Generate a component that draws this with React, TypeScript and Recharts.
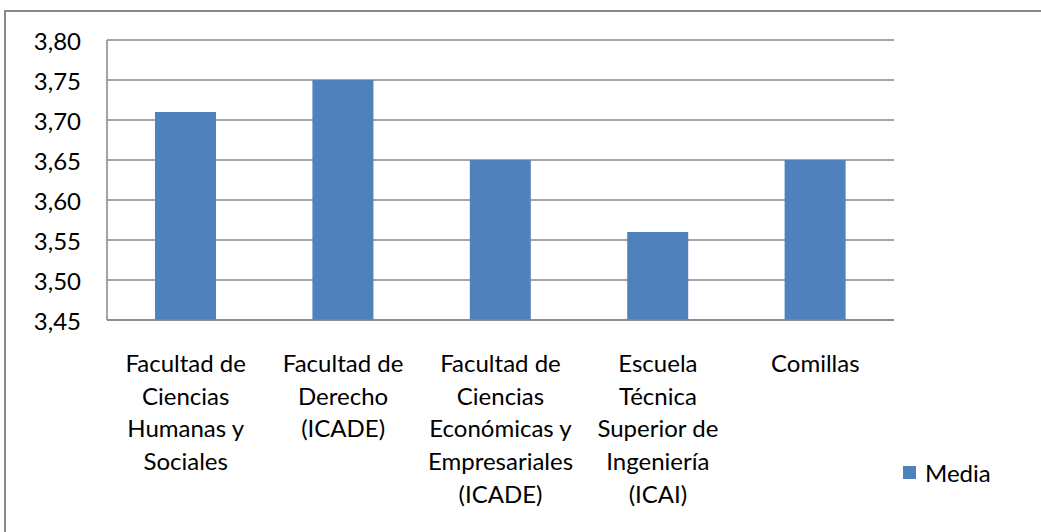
import React from "react";
import { BarChart, Bar, XAxis, YAxis, CartesianGrid, Legend } from "recharts";

const categories = [
  "Facultad de Ciencias Humanas y Sociales",
  "Facultad de Derecho (ICADE)",
  "Facultad de Ciencias Económicas y Empresariales (ICADE)",
  "Escuela Técnica Superior de Ingeniería (ICAI)",
  "Comillas",
];
const categoryLines = [
  ["Facultad de", "Ciencias", "Humanas y", "Sociales"],
  ["Facultad de", "Derecho", "(ICADE)"],
  ["Facultad de", "Ciencias", "Económicas y", "Empresariales", "(ICADE)"],
  ["Escuela", "Técnica", "Superior de", "Ingeniería", "(ICAI)"],
  ["Comillas"],
];
const mediaValues = [3.71, 3.75, 3.65, 3.56, 3.65];
const yTicks = [3.45, 3.5, 3.55, 3.6, 3.65, 3.7, 3.75, 3.8];
const seriesName = "Media";

const data = categories.map((c, i) => ({ category: c, media: mediaValues[i] }));

const FONT = "Lato, 'Noto Sans', sans-serif";
const FS = 24;
const BAR = "#4F81BD";
const GRID = "#868686";

const YTick = (props: any) => {
  const { x, y, payload } = props;
  return (
    <text x={x - 26} y={y} textAnchor="end" dominantBaseline="central" fontFamily={FONT} fontSize={FS} fill="#000">
      {Number(payload.value).toFixed(2).replace(".", ",")}
    </text>
  );
};

const XTick = (props: any) => {
  const { x, y, payload } = props;
  const idx = categories.indexOf(payload.value);
  const lines = categoryLines[idx] || [payload.value];
  return (
    <text x={x} y={y} textAnchor="middle" fontFamily={FONT} fontSize={FS} fill="#000">
      {lines.map((l, i) => (
        <tspan key={i} x={x} y={y + 52 + i * 32.7}>
          {l}
        </tspan>
      ))}
    </text>
  );
};

const LegendContent = () => (
  <div style={{ height: 0, overflow: "visible", position: "relative" }}>
    <div
      style={{
        position: "absolute",
        left: 0,
        top: 0,
        display: "flex",
        alignItems: "center",
        fontFamily: FONT,
        fontSize: FS,
        color: "#000",
        whiteSpace: "nowrap",
      }}
    >
      <span style={{ display: "inline-block", width: 13, height: 13, background: BAR, marginRight: 9 }} />
      <span>{seriesName}</span>
    </div>
  </div>
);

export default function App() {
  return (
    <div style={{ position: "fixed", left: 0, top: 0, width: 1041, height: 532, overflow: "hidden", background: "#fff" }}>
      <div
        style={{
          position: "absolute",
          left: 4,
          top: 10,
          width: 1100,
          height: 600,
          border: "2px solid #8a8a8a",
          boxSizing: "border-box",
        }}
      />
      <div style={{ position: "absolute", left: 0, top: 0 }}>
        <BarChart
          width={1041}
          height={532}
          data={data}
          margin={{ top: 40, right: 147, left: 0, bottom: 0 }}
          barCategoryGap="30.5%"
        >
          <CartesianGrid horizontal={true} vertical={false} stroke={GRID} strokeWidth={1.5} />
          <XAxis
            dataKey="category"
            height={212}
            tickLine={false}
            tickSize={0}
            tickMargin={0}
            axisLine={{ stroke: GRID, strokeWidth: 1.5 }}
            tick={<XTick />}
            interval={0}
          />
          <YAxis
            width={107}
            domain={[3.45, 3.8]}
            ticks={yTicks}
            allowDataOverflow
            tickLine={false}
            tickSize={0}
            tickMargin={0}
            axisLine={{ stroke: GRID, strokeWidth: 1.5 }}
            tick={<YTick />}
            interval={0}
          />
          <Legend
            content={<LegendContent />}
            wrapperStyle={{ position: "absolute", left: 903, top: 458, width: 120, height: 0 }}
          />
          <Bar dataKey="media" name={seriesName} fill={BAR} isAnimationActive={false} />
        </BarChart>
      </div>
    </div>
  );
}
